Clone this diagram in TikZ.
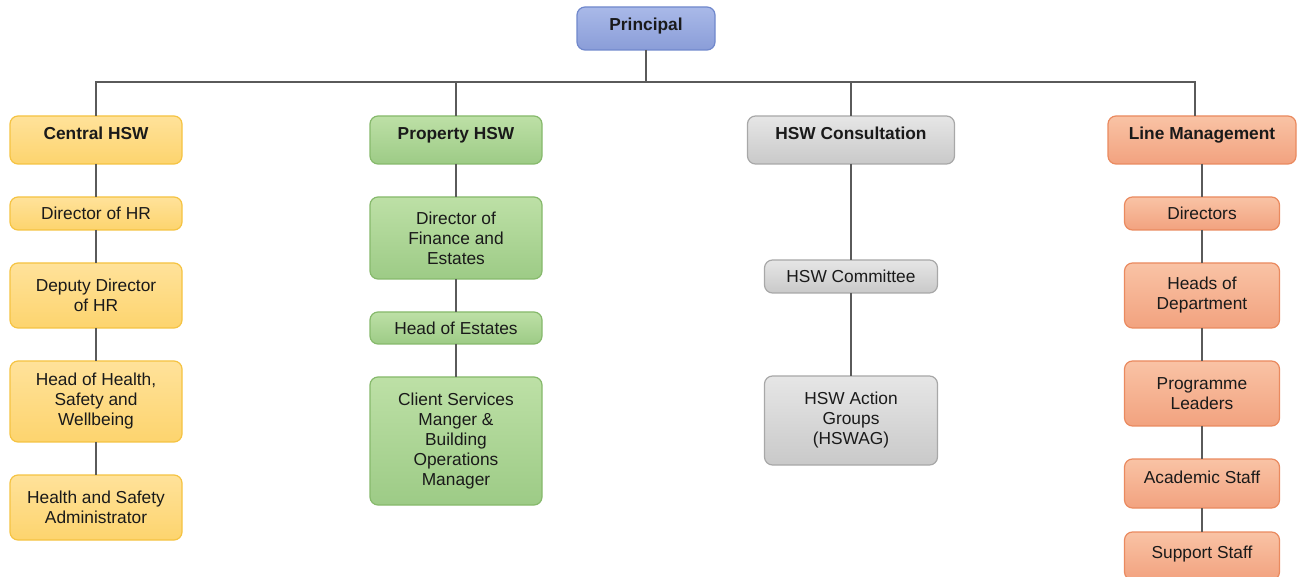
\documentclass[tikz,border=0pt]{standalone}
\usepackage{fontspec}
\setmainfont{Liberation Sans}
\usetikzlibrary{positioning}

\definecolor{txt}{HTML}{1A1A1A}
\definecolor{linkgray}{HTML}{5A5A5A}
\definecolor{blueA}{HTML}{A9B9E8}
\definecolor{blueB}{HTML}{8A9DD8}
\definecolor{blueD}{HTML}{7088CC}
\definecolor{yelA}{HTML}{FFE29A}
\definecolor{yelB}{HTML}{FDD46E}
\definecolor{yelD}{HTML}{F5C342}
\definecolor{grnA}{HTML}{BDE0A6}
\definecolor{grnB}{HTML}{9DCB86}
\definecolor{grnD}{HTML}{86B96B}
\definecolor{gryA}{HTML}{E6E6E6}
\definecolor{gryB}{HTML}{C9C9C9}
\definecolor{gryD}{HTML}{A8A8A8}
\definecolor{orgA}{HTML}{F9C3A5}
\definecolor{orgB}{HTML}{F2A27F}
\definecolor{orgD}{HTML}{EA8A5F}

\begin{document}
\begin{tikzpicture}[
    x=0.75pt, y=-0.75pt,
    node distance={24.75pt},
    font=\fontsize{13}{15}\selectfont,
    box/.style = {
        rounded corners=6pt,
        line width=0.9pt,
        outer sep=0pt,
        align=center,
        inner sep=2pt,
        text=txt
    },
    head/.style = {
        box,
        font=\fontsize{13}{15}\selectfont\bfseries,
        minimum height=36pt,
        text height=9.5pt,
        text depth=10.5pt
    },
    ybox/.style = {box, draw=yelD, top color=yelA, bottom color=yelB, minimum width=129pt},
    gbox/.style = {box, draw=grnD, top color=grnA, bottom color=grnB, minimum width=129pt},
    sbox/.style = {box, draw=gryD, top color=gryA, bottom color=gryB, minimum width=129.75pt},
    obox/.style = {box, draw=orgD, top color=orgA, bottom color=orgB, minimum width=116.25pt},
    link/.style = {
        draw=linkgray,
        line width=1.1pt
    }
]
  \useasboundingbox (0,0) rectangle (1304,577);

  % top
  \node[box, draw=blueD, top color=blueA, bottom color=blueB,
        font=\fontsize{13}{15}\selectfont\bfseries,
        minimum width=103.5pt, minimum height=32.25pt,
        text height=9.5pt, text depth=6.8pt] (princ) at (646,28.5) {Principal};

  % branch heads
  \node[head, ybox] (central) at (96,140) {Central HSW};
  \node[head, gbox] (prop) at (456,140) {Property HSW};
  \node[head, sbox, minimum width=155.25pt] (consult) at (851,140) {HSW Consultation};
  \node[head, obox, minimum width=141pt] (linemgmt) at (1202,140) {Line Management};

  % central HSW
  \node[ybox, minimum height=24.75pt] (dirhr) [below=of central] {Director of HR};
  \node[ybox, minimum height=48.75pt] (depdir) [below=of dirhr] {Deputy Director\\of HR};
  \node[ybox, minimum height=60.75pt] (headhsw) [below=of depdir] {Head of Health,\\Safety and\\Wellbeing};
  \node[ybox, minimum height=48.75pt] (hsadmin) [below=of headhsw] {Health and Safety\\Administrator};

  % property HSW
  \node[gbox, minimum height=61.5pt] (dirfin) [below=of prop] {Director of\\Finance and\\Estates};
  \node[gbox, minimum height=24pt] (headest) [below=of dirfin] {Head of Estates};
  \node[gbox, minimum height=96pt] (client) [below=of headest] {Client Services\\Manger \&\\Building\\Operations\\Manager};

  % HSW consultation
  \node[sbox, minimum height=24.75pt] (committee) [below=72pt of consult] {HSW Committee};
  \node[sbox, minimum height=66.75pt] (hswag) [below=62.25pt of committee] {HSW Action\\Groups\\(HSWAG)};

  % line management
  \node[obox, minimum height=24.75pt] (directors) [below=of linemgmt] {Directors};
  \node[obox, minimum height=48.75pt] (heads) [below=of directors] {Heads of\\Department};
  \node[obox, minimum height=48.75pt] (progl) [below=of heads] {Programme\\Leaders};
  \node[obox, minimum height=36.75pt, text height=9.5pt, text depth=9pt] (acad) [below=of progl] {Academic Staff};
  \node[obox, minimum height=36pt, text height=9.5pt, text depth=6pt] (support) [below=18pt of acad] {Support Staff};

  % bus
  \coordinate (bus) at (646,82);
  \coordinate (lmtop) at (1195,116);
  \draw[link] (princ) -- (bus);
  \draw[link] (central.north) |- (bus) -| (lmtop);
  \draw[link] (prop.north |- bus) -- (prop);
  \draw[link] (consult.north |- bus) -- (consult);

  % chains
  \draw[link] (central) -- (dirhr);
  \draw[link] (dirhr) -- (depdir);
  \draw[link] (depdir) -- (headhsw);
  \draw[link] (headhsw) -- (hsadmin);
  \draw[link] (prop) -- (dirfin);
  \draw[link] (dirfin) -- (headest);
  \draw[link] (headest) -- (client);
  \draw[link] (consult) -- (committee);
  \draw[link] (committee) -- (hswag);
  \draw[link] (linemgmt.south -| directors) -- (directors);
  \draw[link] (directors) -- (heads);
  \draw[link] (heads) -- (progl);
  \draw[link] (progl) -- (acad);
  \draw[link] (acad) -- (support);
\end{tikzpicture}
\end{document}
